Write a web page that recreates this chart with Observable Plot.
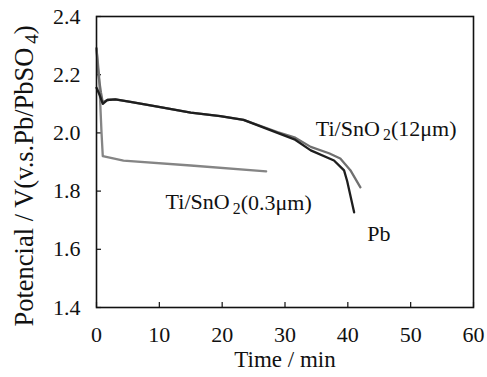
<!DOCTYPE html>
<html><head><meta charset="utf-8">
<script src="https://cdn.jsdelivr.net/npm/d3@7"></script>
<script src="https://cdn.jsdelivr.net/npm/@observablehq/plot@0.6"></script>
<style>
body{margin:0;background:#fff}
svg, svg text, svg g {font-family: "Liberation Serif", "DejaVu Serif", serif !important;}
</style>
</head><body><div id="chart"></div>
<script>
// Pb electrode
const pbTime = [0, 0.5, 1.0, 1.7, 3, 5.4, 9.7, 15, 19.7, 23.4, 28.8, 31.5, 34.1, 37.8, 39.4, 39.9, 41];
const pbV    = [2.155, 2.13, 2.10, 2.113, 2.115, 2.107, 2.09, 2.07, 2.058, 2.045, 2.0, 1.978, 1.94, 1.905, 1.871, 1.834, 1.727];
// Ti/SnO2 (12 µm)
const t12Time = [0, 0.3, 0.7, 1.0, 1.7, 3, 5.4, 9.7, 15, 19.7, 23.4, 28.8, 31.5, 34.1, 37.0, 38.8, 40.4, 42];
const t12V    = [2.29, 2.2, 2.14, 2.105, 2.113, 2.115, 2.107, 2.09, 2.07, 2.058, 2.045, 2.003, 1.985, 1.952, 1.93, 1.912, 1.872, 1.813];
// Ti/SnO2 (0.3 µm)
const t03Time = [0, 0.4, 0.8, 1.0, 4.3, 15, 27];
const t03V    = [2.29, 2.2, 2.0, 1.92, 1.905, 1.888, 1.868];

const xTicks = [0, 10, 20, 30, 40, 50, 60];
const yTicks = [1.4, 1.6, 1.8, 2.0, 2.2, 2.4];

const labelText = ["Ti/SnO2(12μm)", "Ti/SnO2(0.3μm)", "Pb"];
const labelTime = [34.9, 11, 43.1];
const labelV    = [2.015, 1.761, 1.654];

const xLabel = "Time / min";
const yLabel = "Potencial / V(v.s.Pb/PbSO4)";

const toRows = (ts, vs, s) => ts.map((t, i) => ({t, v: vs[i], s}));
const rows = [
  ...toRows(t03Time, t03V, "0.3"),
  ...toRows(t12Time, t12V, "12"),
  ...toRows(pbTime, pbV, "Pb")
];
const labels = labelText.map((text, i) => ({text, t: labelTime[i], v: labelV[i]}));

const chart = Plot.plot({
  width: 487, height: 377,
  marginLeft: 96, marginTop: 16, marginRight: 14, marginBottom: 70,
  style: {fontSize: "22px", color: "#111", background: "#fff"},
  x: {domain: [0, 60]},
  y: {domain: [1.4, 2.4]},
  marks: [
    Plot.axisX({ticks: xTicks, tickSize: -5, tickPadding: 24, tickFormat: d => String(d), label: null, stroke: "#111", strokeWidth: 1.2}),
    Plot.axisY({ticks: yTicks, tickSize: -5, tickPadding: 21, tickFormat: d => d.toFixed(1), label: null, stroke: "#111", strokeWidth: 1.2}),
    Plot.lineY(rows, {x: "t", y: "v", z: "s",
      stroke: d => d.s === "Pb" ? "#1e1e1e" : (d.s === "12" ? "#707070" : "#858585"),
      strokeWidth: 2.3, curve: "linear"}),
    Plot.frame({stroke: "#111", strokeWidth: 1.6}),
    Plot.text(labels, {x: "t", y: "v", text: "text", textAnchor: "start", fill: "#111"}),
    Plot.text([xLabel], {frameAnchor: "bottom", text: d => d, dy: 59, fill: "#111", fontSize: 23}),
    Plot.text([yLabel], {frameAnchor: "left", textAnchor: "middle", text: d => d, rotate: -90, dx: -72, dy: 14, fill: "#111", fontSize: 26.5})
  ]
});

document.getElementById("chart").append(chart);

// subscripts
const ns = "http://www.w3.org/2000/svg";
chart.querySelectorAll("text").forEach(el => {
  const s = el.textContent;
  const m = s.match(/^(.*?(?:SnO|PbSO))(\d)(.*)$/);
  if (m && el.children.length === 0) {
    const anchor = getComputedStyle(el).textAnchor;
    el.textContent = "";
    const a = document.createElementNS(ns, "tspan"); a.textContent = m[1];
    const b = document.createElementNS(ns, "tspan"); b.textContent = "\u2009" + m[2];
    b.setAttribute("font-size", "0.72em"); b.setAttribute("dy", "0.28em");
    const c = document.createElementNS(ns, "tspan"); c.textContent = m[3];
    c.setAttribute("dy", "-0.2em");
    el.append(a, b, c);
    if (anchor === "middle") {
      const len = el.getComputedTextLength();
      const x0 = +el.getAttribute("x") || 0;
      el.setAttribute("text-anchor", "start");
      el.style.textAnchor = "start";
      el.setAttribute("x", x0 - len / 2);
    }
  }
});
</script>
</body></html>
